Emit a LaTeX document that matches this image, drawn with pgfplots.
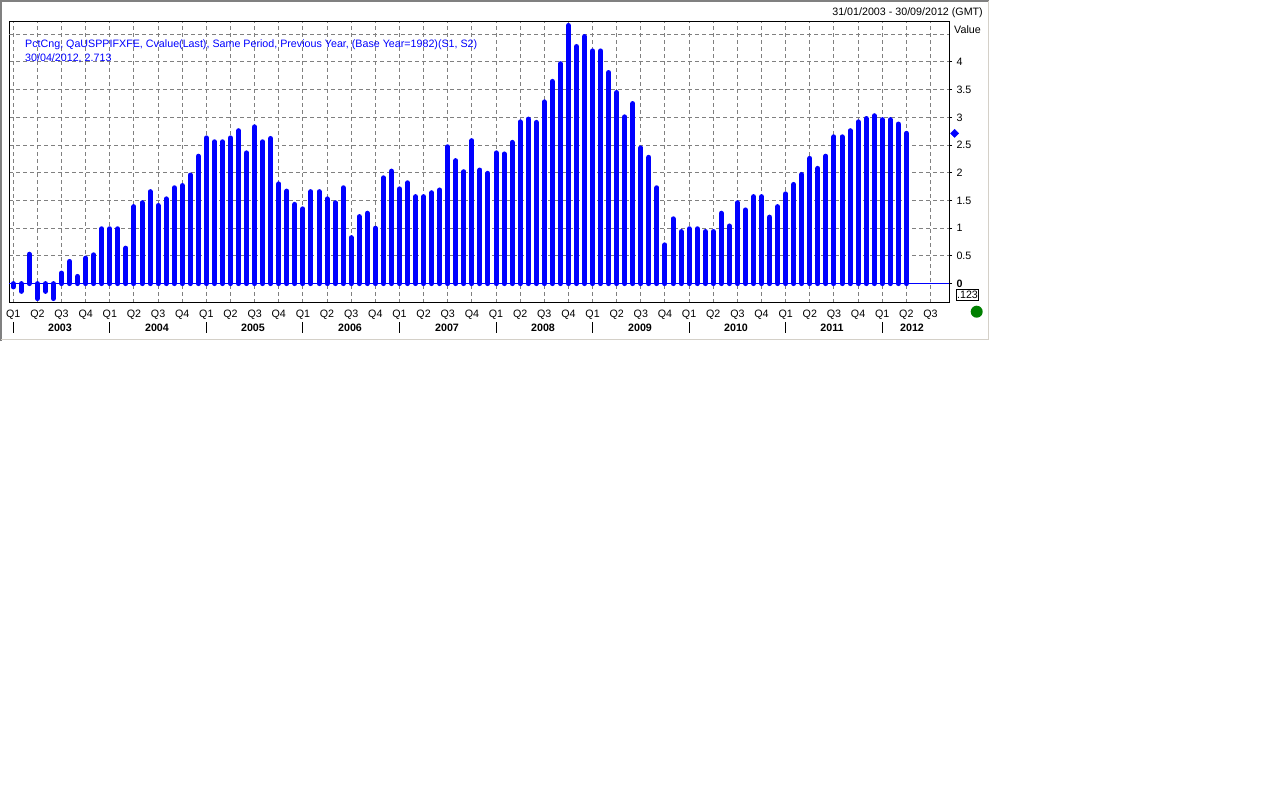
\documentclass[border=0pt]{standalone}
\usepackage{fontspec}
\setmainfont{Liberation Sans}
\usepackage{pgfplots}
\pgfplotsset{compat=1.18}
\definecolor{gridgray}{RGB}{128,128,128}
\definecolor{paneldark}{RGB}{128,128,128}
\definecolor{panellight}{RGB}{212,208,200}
\definecolor{okgreen}{RGB}{0,128,0}
\newcommand\cf{\fontsize{10.7bp}{12bp}\selectfont}

\begin{document}
\begin{tikzpicture}[x=1bp,y=1bp]
% page and panel
\fill[white] (0,0) rectangle (1267,-798);
\draw[paneldark, line width=2bp] (1,-341) -- (1,-1) -- (989,-1);
\draw[panellight, line width=1bp] (988.5,-1) -- (988.5,-339.5) -- (1,-339.5);

\begin{axis}[
    at={(9bp,-22bp)}, anchor=north west,
    scale only axis, width=940bp, height=280.6bp,
    xmin=-0.53, xmax=116.3,
    ymin=-0.343, ymax=4.722,
    clip=false,
    axis line style={black, line width=1bp},
    xtick={0,3,...,114},
    xticklabels={Q1,Q2,Q3,Q4,Q1,Q2,Q3,Q4,Q1,Q2,Q3,Q4,Q1,Q2,Q3,Q4,Q1,Q2,Q3,Q4,
                 Q1,Q2,Q3,Q4,Q1,Q2,Q3,Q4,Q1,Q2,Q3,Q4,Q1,Q2,Q3,Q4,Q1,Q2,Q3},
    xtick style={draw=none},
    xticklabel style={font=\cf, anchor=base, yshift=-12bp},
    ytick={0,0.5,1,1.5,2,2.5,3,3.5,4},
    yticklabels={\textbf{0},0.5,1,1.5,2,2.5,3,3.5,4},
    ytick pos=right, yticklabel pos=right,
    tick align=outside, major tick length=3bp,
    ytick style={black, line width=1bp},
    yticklabel style={font=\cf, anchor=west, xshift=1bp},
    extra y ticks={4.5}, extra y tick labels={},
    extra y tick style={major tick length=0pt, grid=major},
    xmajorgrids, ymajorgrids,
    grid style={gridgray, line width=1bp, dash pattern=on 4bp off 3bp},
]
\addplot[ycomb, color=blue, line width=5bp, line cap=round] coordinates {
(0,-0.06) (1,-0.14) (2,0.53) (3,-0.27) (4,-0.14) (5,-0.27) (6,0.19) (7,0.40)
(8,0.13) (9,0.46) (10,0.52) (11,0.99) (12,0.99) (13,0.99) (14,0.64) (15,1.39)
(16,1.46) (17,1.66) (18,1.41) (19,1.53) (20,1.73) (21,1.77) (22,1.96) (23,2.30)
(24,2.63) (25,2.56) (26,2.56) (27,2.63) (28,2.76) (29,2.36) (30,2.83) (31,2.56)
(32,2.62) (33,1.80) (34,1.67) (35,1.43) (36,1.35) (37,1.66) (38,1.66) (39,1.53)
(40,1.46) (41,1.73) (42,0.83) (43,1.21) (44,1.27) (45,1.00) (46,1.91) (47,2.03)
(48,1.71) (49,1.82) (50,1.57) (51,1.57) (52,1.64) (53,1.69) (54,2.47) (55,2.22)
(56,2.02) (57,2.58) (58,2.05) (59,1.99) (60,2.36) (61,2.34) (62,2.55) (63,2.92)
(64,2.97) (65,2.91) (66,3.28) (67,3.65) (68,3.97) (69,4.66) (70,4.28) (71,4.46)
(72,4.20) (73,4.20) (74,3.81) (75,3.45) (76,3.01) (77,3.25) (78,2.45) (79,2.28)
(80,1.73) (81,0.70) (82,1.17) (83,0.94) (84,0.99) (85,0.99) (86,0.94) (87,0.94)
(88,1.27) (89,1.04) (90,1.46) (91,1.33) (92,1.57) (93,1.57) (94,1.20) (95,1.39)
(96,1.62) (97,1.79) (98,1.97) (99,2.26) (100,2.08) (101,2.30) (102,2.65) (103,2.65)
(104,2.76) (105,2.92) (106,2.98) (107,3.03) (108,2.96) (109,2.96) (110,2.88) (111,2.713)
};
\draw[blue, line width=1bp] (axis cs:-0.53,0) -- (axis cs:116.3,0);
% last value marker
\addplot[only marks, mark=square*, mark size=2.9bp, mark options={rotate=45}, color=blue]
  coordinates {(117.0,2.713)};
\end{axis}

% texts around the plot
\node[font=\cf, anchor=base east, inner sep=0] at (983,-16) {31/01/2003 - 30/09/2012 (GMT)};
\node[font=\cf, anchor=base west, inner sep=0] at (954,-34) {Value};
\node[font=\cf, anchor=base west, inner sep=0, text=blue] at (25,-48)
  {PctCng, QaUSPPIFXFE, Cvalue(Last), Same Period, Previous Year, (Base Year=1982)(S1, S2)};
\node[font=\cf, anchor=base west, inner sep=0, text=blue] at (25,-62) {30/04/2012, 2.713};

% year labels and separators
\foreach \yr/\xc in {2003/60,2004/157,2005/253,2006/350,2007/447,2008/543,2009/640,2010/736,2011/832,2012/912}
  \node[font=\cf\bfseries, anchor=base, inner sep=0] at (\xc,-331) {\yr};
\foreach \k in {0,...,9}
  \draw[black, line width=1bp] ({13.3+96.56*\k},-322) -- ({13.3+96.56*\k},-333);

% small box and status dot
\draw[black, line width=1bp, fill=white] (956.7,-289) rectangle (978.3,-300.5);
\node[font=\cf, inner sep=0] at (967.5,-294.8) {.123};
\fill[okgreen] (976.7,-311.7) circle (6);
\end{tikzpicture}
\end{document}
